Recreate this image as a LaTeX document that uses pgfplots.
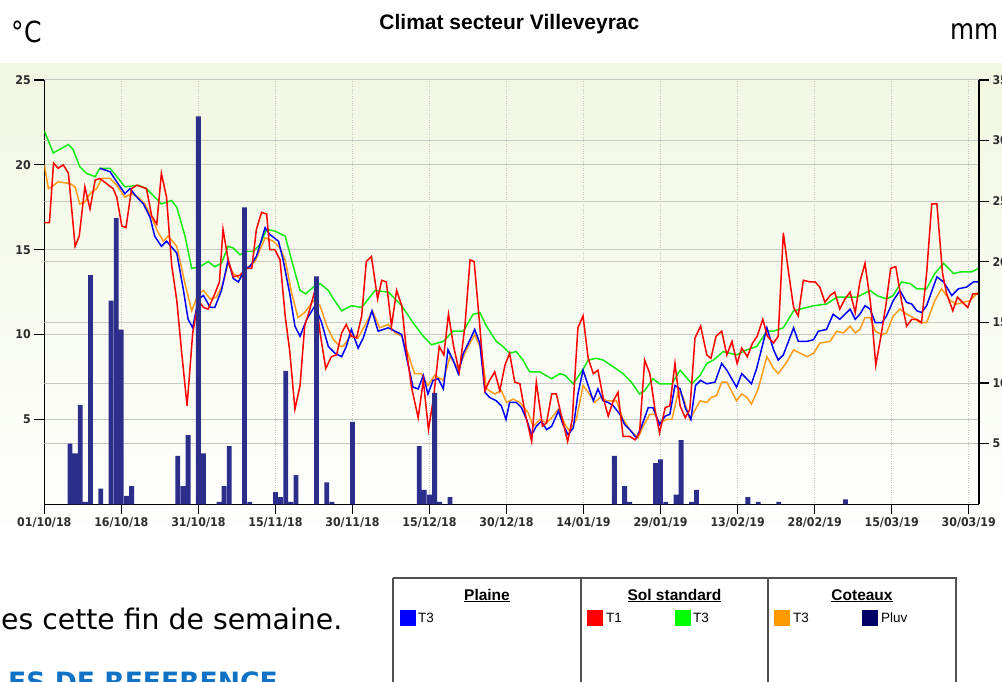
\documentclass[border=0pt]{standalone}
\usepackage{fontspec}
\usepackage{pgfplots}
\pgfplotsset{compat=1.18}
\newfontfamily\tah[FakeStretch=0.866]{DejaVu Sans}
\newfontfamily\tickf[FakeStretch=0.92]{DejaVu Sans}
\newfontfamily\verd{DejaVu Sans}
\newfontfamily\arial{Liberation Sans}
\definecolor{bgtop}{RGB}{241,247,225}
\definecolor{tickgray}{RGB}{45,45,45}
\definecolor{gridgray}{RGB}{200,202,193}
\definecolor{barblue}{RGB}{44,46,140}
\definecolor{lgreen}{RGB}{20,235,20}
\definecolor{lorange}{RGB}{255,156,26}
\definecolor{refblue}{RGB}{16,114,196}
\definecolor{boxgray}{RGB}{80,80,80}
\definecolor{navy}{RGB}{0,0,102}
\definecolor{sqorange}{RGB}{255,153,0}
\pgfplotsset{chart/.style={
  scale only axis, width=934.7pt, height=424.3pt, at={(44.3pt,176.7pt)}, anchor=south west,
  xmin=0, xmax=182, tick align=outside, major tick length=10pt,
  axis line style={-, black, line width=1.2pt}, tick style={black, line width=1.2pt},
  /pgf/number format/assume math mode=true,
  ticklabel style={font=\tickf\bfseries\fontsize{12}{13}\selectfont, text=tickgray},
}}
\begin{document}
\begin{tikzpicture}[x=1pt,y=1pt]
\path[use as bounding box] (0,0) rectangle (1002,681);
\begin{scope}
\clip (0,0) rectangle (1002,681);
\shade[top color=bgtop, bottom color=white] (0,617) rectangle (1002,133);
\begin{axis}[chart, ymin=0, ymax=25, axis x line*=bottom, axis y line*=left,
  ytick pos=left, xtick pos=bottom,
  xtick={0,15,...,180},
  xticklabels={01/10/18,16/10/18,31/10/18,15/11/18,30/11/18,15/12/18,30/12/18,14/01/19,29/01/19,13/02/19,28/02/19,15/03/19,30/03/19},
  ytick={5,10,15,20,25},
  xmajorgrids, ymajorgrids,
  x grid style={gray!45, dotted, line width=0.9pt},
  y grid style={gridgray, line width=1pt},
  ]
% grid lines of the mm scale (5 mm steps = 25/7 degC)
\pgfplotsinvokeforeach{3.5714,7.1429,10.7143,14.2857,17.8571,21.4286}{
  \draw[gridgray, line width=1pt] (axis cs:0,#1) -- (axis cs:182,#1);
}
% Sol standard T3 (green)
\addplot[lgreen, line width=1.5pt] coordinates {
(0,22.0) (1.75,20.7) (4.7,21.2) (5.6,20.9) (6.9,19.9) (8.2,19.5) (9.9,19.3) (10.8,19.8) (12.8,19.8) (14.4,19.2) (15.7,18.7) (18.3,18.8) (19.9,18.6) (21.5,18.1) (22.8,17.7) (24.8,17.9) (25.8,17.5) (27.4,15.8) (28.7,13.9) (30.3,14.0) (31.9,14.3) (33.2,14.0) (34.5,14.2) (35.8,15.2) (36.8,15.1) (38.1,14.7) (39.4,14.9) (40.7,14.9) (42.0,15.3) (43.3,16.2) (44.9,16.1) (46.9,15.8) (48.5,14.0) (49.8,12.6) (50.9,12.4) (52.4,12.8) (53.7,13.0) (55.3,12.6) (56.3,12.1) (57.9,11.4) (59.8,11.7) (61.8,11.6) (64.4,12.6) (67.0,12.5) (69.6,11.7) (71.8,10.7) (73.8,9.9) (75.4,9.4) (77.7,9.6) (79.6,10.2) (81.6,10.2) (83.5,11.2) (84.8,11.3) (86.1,10.5) (88.0,9.6) (89.3,9.3) (90.6,8.9) (91.9,9.0) (93.2,8.5) (94.5,7.8) (96.5,7.8) (98.8,7.4) (100.4,7.7) (101.4,7.6) (103.0,7.1) (105.0,8.0) (105.9,8.5) (107.5,8.6) (108.8,8.5) (110.8,8.1) (112.7,7.7) (114.3,7.2) (115.9,6.5) (116.9,6.7) (118.5,7.4) (119.8,7.1) (122.2,7.1) (123.8,7.9) (126.1,7.1) (127.7,7.6) (129.0,8.3) (130.3,8.5) (132.2,9.0) (134.8,8.8) (136.8,9.1) (138.7,9.3) (140.7,10.2) (142.0,10.2) (143.9,10.4) (145.9,11.4) (147.2,11.5) (149.8,11.7) (152.3,11.8) (154.3,12.2) (158.2,12.2) (160.8,12.6) (162.1,12.3) (164.0,12.1) (165.3,12.3) (166.9,13.1) (168.6,13.0) (169.9,12.7) (171.8,12.7) (173.4,13.6) (175.1,14.2) (176.4,13.8) (177.0,13.6) (178.6,13.7) (180.6,13.7) (181.9,13.9)
};
% Coteaux T3 (orange)
\addplot[lorange, line width=1.5pt] coordinates {
(0,20.0) (0.8,18.6) (1.4,18.7) (2.7,19.0) (5.0,18.9) (6.0,18.7) (6.9,17.7) (7.9,17.8) (8.9,18.3) (10.2,18.6) (11.2,19.2) (12.8,19.2) (14.1,18.8) (15.7,18.1) (17.0,18.3) (18.3,18.1) (19.6,17.7) (20.9,16.9) (22.2,16.0) (23.2,15.5) (24.1,15.8) (25.8,15.2) (27.4,13.0) (28.7,11.4) (30.0,12.4) (31.0,12.6) (32.3,12.1) (33.5,12.2) (34.8,13.0) (35.8,14.2) (36.8,13.6) (38.1,13.3) (39.4,13.9) (41.0,14.3) (43.0,15.7) (44.6,15.5) (45.9,15.1) (46.9,14.4) (48.2,12.4) (49.4,11.0) (50.7,11.3) (52.4,12.0) (53.7,11.7) (55.0,10.5) (56.3,9.7) (57.6,9.3) (58.2,9.3) (59.8,10.0) (61.1,9.8) (62.7,10.7) (63.9,11.4) (65.3,10.4) (67.0,10.6) (68.3,10.1) (69.6,9.9) (70.8,8.9) (72.1,7.7) (73.4,7.7) (74.7,7.0) (76.0,7.6) (77.7,7.3) (79.0,8.7) (80.6,8.0) (82.2,9.1) (83.8,10.0) (85.1,9.1) (86.1,6.8) (87.7,6.5) (89.0,6.7) (90.0,6.0) (91.3,6.2) (92.6,6.0) (94.2,5.4) (95.2,4.6) (96.5,5.0) (97.8,4.8) (98.8,5.1) (100.1,5.6) (101.4,4.7) (102.3,4.3) (103.6,5.0) (104.9,7.0) (105.9,6.6) (107.2,6.0) (108.2,6.3) (109.5,6.1) (111.4,6.1) (112.7,5.0) (114.0,4.4) (115.6,3.9) (116.6,4.6) (117.9,5.3) (118.9,5.3) (119.8,4.8) (121.2,5.0) (122.2,5.0) (123.5,6.7) (124.4,6.3) (125.7,5.0) (127.7,6.1) (129.0,6.0) (129.9,6.3) (130.9,6.4) (131.9,7.2) (132.9,7.2) (134.8,6.1) (135.8,6.5) (136.8,6.3) (137.7,5.9) (139.0,6.8) (140.7,8.7) (142.0,8.0) (142.9,7.7) (144.6,8.4) (145.9,9.1) (147.2,8.9) (148.5,8.7) (149.8,8.9) (151.0,9.5) (153.0,9.6) (154.3,10.2) (155.6,10.1) (156.9,10.5) (157.9,10.1) (158.8,10.3) (159.8,11.0) (160.8,11.0) (161.8,10.2) (163.1,10.0) (164.0,10.1) (165.3,11.1) (166.6,11.5) (167.9,11.2) (169.2,11.0) (170.5,10.7) (171.8,10.7) (173.4,12.0) (174.7,12.7) (176.4,12.0) (177.7,11.8) (178.9,11.9) (180.2,12.0) (181.9,12.5)
};
% Plaine T3 (blue)
\addplot[blue, line width=1.5pt] coordinates {
(10.8,19.8) (12.8,19.6) (14.1,19.0) (15.7,18.3) (16.7,18.6) (18.0,18.1) (19.3,17.7) (20.6,16.9) (21.5,15.8) (22.8,15.2) (23.8,15.5) (25.8,14.8) (27.1,12.6) (28.0,10.9) (28.9,10.4) (30.0,12.1) (31.0,12.3) (32.3,11.6) (33.2,11.6) (34.5,12.6) (35.8,14.4) (36.8,13.3) (37.8,13.1) (39.1,13.9) (40.0,14.0) (41.3,14.6) (43.0,16.3) (43.9,15.9) (45.6,15.5) (46.5,14.4) (47.8,12.4) (48.8,10.5) (49.8,9.9) (51.1,10.9) (52.7,11.7) (54.0,10.7) (55.3,9.3) (56.6,8.9) (57.9,8.7) (58.8,9.3) (59.8,10.3) (61.1,9.2) (62.1,9.8) (63.8,11.4) (65.0,10.2) (67.0,10.4) (68.3,10.2) (69.6,10.0) (70.5,8.7) (71.8,6.9) (72.8,6.8) (73.8,7.6) (74.7,6.5) (75.7,7.3) (76.7,7.4) (77.7,6.8) (78.6,9.1) (79.6,8.5) (80.6,7.7) (81.6,8.9) (82.9,9.7) (83.8,10.3) (84.8,9.5) (85.8,6.6) (86.7,6.3) (88.0,6.1) (89.0,5.8) (89.9,5.0) (90.6,6.0) (91.9,6.0) (92.9,5.7) (93.9,5.0) (94.9,4.1) (95.8,4.6) (96.8,4.9) (97.8,4.4) (98.8,4.6) (100.1,5.5) (101.0,4.7) (102.0,4.1) (103.0,4.5) (103.9,6.5) (104.9,7.9) (105.9,7.0) (106.9,6.1) (107.8,6.8) (108.8,6.1) (109.8,6.0) (110.8,5.8) (112.1,5.3) (113.0,4.7) (114.0,4.4) (115.3,3.9) (116.3,4.6) (117.6,5.7) (118.5,5.7) (119.8,4.7) (120.9,5.2) (121.8,5.3) (122.8,7.0) (123.8,6.8) (124.8,5.7) (125.9,5.0) (126.8,7.0) (127.8,7.3) (129.0,7.1) (130.6,7.2) (131.9,8.3) (132.9,7.9) (134.8,6.9) (135.8,7.7) (137.7,7.1) (138.7,8.0) (140.7,10.4) (142.0,9.1) (142.9,8.5) (143.9,8.8) (145.9,10.4) (146.8,9.6) (148.5,9.6) (149.8,9.7) (150.7,10.2) (152.3,10.3) (153.6,11.2) (154.9,10.9) (156.9,11.5) (157.9,10.9) (158.8,11.2) (159.8,11.7) (160.8,11.5) (161.8,10.7) (163.1,10.7) (164.0,11.1) (165.3,12.0) (166.6,12.6) (167.9,11.9) (168.9,11.8) (169.9,11.4) (170.8,11.3) (171.8,11.7) (173.8,13.4) (175.1,13.1) (176.7,12.3) (178.0,12.7) (179.6,12.8) (180.9,13.1) (181.9,13.1)
};
% Sol standard T1 (red)
\addplot[red, line width=1.5pt] coordinates {
(0,16.6) (1.0,16.6) (1.8,20.1) (2.7,19.8) (3.7,20.0) (4.7,19.5) (6.0,15.2) (6.8,15.8) (7.9,18.7) (8.9,17.4) (9.9,19.1) (10.8,19.2) (12.1,18.9) (13.4,18.6) (14.1,18.1) (15.1,16.4) (15.9,16.3) (17.0,18.6) (18.0,18.8) (19.9,18.6) (20.9,17.0) (21.9,16.5) (22.8,19.5) (23.8,18.1) (24.8,14.1) (25.8,12.0) (26.7,9.1) (27.8,5.8) (28.9,10.1) (30.0,12.0) (31.0,11.6) (31.9,11.5) (33.2,12.4) (34.1,13.1) (34.8,16.2) (35.8,14.4) (36.8,13.4) (38.1,13.5) (39.4,13.9) (40.4,13.9) (41.3,16.2) (42.3,17.2) (43.3,17.1) (43.9,15.0) (44.9,15.0) (45.9,14.4) (46.9,11.1) (47.8,9.0) (48.8,5.6) (49.8,7.0) (50.7,10.5) (51.7,11.5) (52.7,12.6) (53.7,10.1) (54.8,8.0) (55.9,8.7) (56.9,8.8) (57.9,10.1) (58.8,10.6) (59.8,9.9) (60.8,9.8) (61.8,11.1) (62.7,14.3) (63.7,14.6) (64.9,12.1) (65.7,13.2) (66.6,13.1) (67.6,10.5) (68.6,12.6) (69.6,11.7) (70.5,9.1) (71.5,6.9) (72.8,5.1) (73.8,7.3) (74.8,4.4) (75.8,6.3) (76.9,9.3) (77.8,8.8) (78.7,11.2) (79.7,9.3) (80.8,7.8) (81.9,10.5) (82.9,14.4) (83.7,14.3) (84.8,10.5) (85.8,6.7) (86.7,7.3) (87.7,7.8) (88.7,6.7) (89.7,8.2) (90.6,8.9) (91.6,7.2) (92.6,7.1) (93.6,5.4) (94.9,3.7) (95.8,7.2) (97.0,4.6) (97.8,4.8) (98.8,6.5) (99.7,6.5) (100.7,5.2) (101.9,3.7) (102.8,5.0) (103.9,10.4) (104.9,11.1) (105.9,8.6) (106.9,7.7) (107.8,7.9) (108.8,6.3) (109.8,5.2) (110.8,6.1) (111.7,6.6) (112.7,4.0) (114.0,4.0) (115.0,3.8) (115.9,4.2) (116.9,8.5) (117.9,7.7) (118.9,5.6) (119.8,4.2) (120.9,5.7) (121.8,5.8) (122.8,8.3) (123.8,5.8) (124.8,5.1) (125.7,5.6) (126.7,9.8) (127.8,10.5) (129.0,8.8) (129.8,8.6) (130.8,9.9) (131.9,10.2) (132.9,8.8) (133.9,9.6) (134.9,8.3) (135.8,9.2) (136.9,8.7) (137.9,9.5) (138.8,9.9) (139.9,10.9) (140.8,9.9) (142.0,9.5) (142.9,9.9) (143.9,16.0) (144.9,13.7) (145.9,11.6) (146.8,11.1) (147.8,13.2) (149.1,13.1) (150.1,13.1) (151.0,12.8) (152.0,11.9) (153.0,12.3) (153.9,12.5) (154.9,11.5) (155.9,12.1) (156.9,12.5) (157.9,11.3) (158.8,13.1) (159.8,14.2) (160.9,11.8) (161.9,8.2) (162.9,9.9) (163.9,11.8) (164.8,13.9) (165.8,14.0) (166.9,12.0) (167.9,10.5) (168.9,10.9) (169.9,10.9) (170.8,10.7) (171.8,13.6) (172.8,17.7) (173.8,17.7) (174.9,13.6) (175.7,12.4) (176.9,11.4) (177.8,12.2) (178.8,11.9) (179.8,11.6) (180.8,12.4) (181.9,12.4)
};
\end{axis}
\begin{axis}[chart, ymin=0, ymax=35, axis x line=none, axis y line*=right,
  ytick pos=right, ytick={5,10,...,35}, ybar, bar width=4.8pt]
\addplot[fill=barblue, draw=none, bar shift=0pt] coordinates {
(5,5.0) (6,4.2) (7,8.2) (8,0.2) (9,18.9) (11,1.3) (13,16.8) (14,23.6) (15,14.4) (16,0.7) (17,1.5)
(26,4.0) (27,1.5) (28,5.7) (30,32.0) (31,4.2) (34,0.2) (35,1.5) (36,4.8) (39,24.5) (40,0.2)
(45,1.0) (46,0.6) (47,11.0) (48,0.2) (49,2.4) (53,18.8) (55,1.8) (56,0.2) (60,6.8)
(73,4.8) (74,1.2) (75,0.8) (76,9.2) (77,0.2) (79,0.6)
(111,4.0) (113,1.5) (114,0.2) (119,3.4) (120,3.7) (121,0.2) (123,0.8) (124,5.3) (126,0.2) (127,1.2)
(137,0.6) (139,0.2) (143,0.2) (156,0.4)
};
\end{axis}
% titles
\node[anchor=base, inner sep=0, font=\arial\bfseries\fontsize{21}{24}\selectfont] at (509.4,651) {Climat secteur Villeveyrac};
\node[anchor=base west, inner sep=0, font=\tah\fontsize{29}{31}\selectfont] at (11.7,638.3) {°C};
\node[anchor=base east, inner sep=0, font=\tah\fontsize{28.5}{31}\selectfont] at (998.3,641) {mm};
% page text
\node[anchor=base west, inner sep=0, font=\verd\fontsize{28.3}{31}\selectfont] at (1,52) {es cette fin de semaine.};
\node[anchor=base west, inner sep=0, font=\verd\bfseries\fontsize{26.6}{29}\selectfont, text=refblue] at (8,-10) {ES DE REFERENCE};
% legend box
\draw[boxgray, line width=1.3pt] (393,103) -- (956,103) -- (956,-20) (393,103) -- (393,-20) (581,103) -- (581,-20) (768,103) -- (768,-20);
\begin{scope}[every node/.style={inner sep=0}]
\node[anchor=base, font=\arial\bfseries\fontsize{15.5}{17}\selectfont] at (487,81) {\underline{Plaine}};
\node[anchor=base, font=\arial\bfseries\fontsize{15.5}{17}\selectfont] at (674.5,81) {\underline{Sol standard}};
\node[anchor=base, font=\arial\bfseries\fontsize{15.5}{17}\selectfont] at (862,81) {\underline{Coteaux}};
\fill[blue] (400,55) rectangle (416,71);
\node[anchor=base west, font=\arial\fontsize{13.5}{15}\selectfont] at (418,58.5) {T3};
\fill[red] (587,55) rectangle (603,71);
\node[anchor=base west, font=\arial\fontsize{13.5}{15}\selectfont] at (606,58.5) {T1};
\fill[green] (675,55) rectangle (691,71);
\node[anchor=base west, font=\arial\fontsize{13.5}{15}\selectfont] at (693,58.5) {T3};
\fill[sqorange] (774,55) rectangle (790,71);
\node[anchor=base west, font=\arial\fontsize{13.5}{15}\selectfont] at (793,58.5) {T3};
\fill[navy] (862,55) rectangle (878,71);
\node[anchor=base west, font=\arial\fontsize{13.5}{15}\selectfont] at (881,58.5) {Pluv};
\end{scope}
\end{scope}
\end{tikzpicture}
\end{document}
